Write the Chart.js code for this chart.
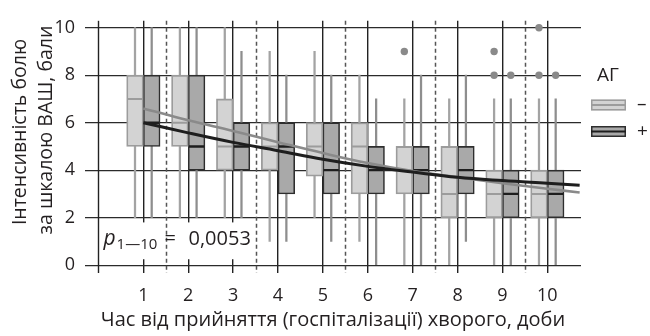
<!DOCTYPE html>
<html><head><meta charset="utf-8">
<script src="https://cdn.jsdelivr.net/npm/chart.js@4/dist/chart.umd.min.js"></script>
<style>html,body{margin:0;padding:0;background:#fff}#wrap{width:650px;height:336px;position:relative}</style>
</head><body><div id="wrap"><canvas id="c" width="650" height="336"></canvas></div>
<script>
// ---- data ----
const days = [1, 2, 3, 4, 5, 6, 7, 8, 9, 10];
// АГ − (light boxes)
const negMin = [2, 2, 2, 1, 2, 1, 0, 0, 0, 0];
const negQ1  = [5, 5, 4, 4, 3.75, 3, 3, 2, 2, 2];
const negMed = [7, 6, 5, 5, 5, 5, 4, 3, 3, 3];
const negQ3  = [8, 8, 7, 6, 6, 6, 5, 5, 4, 4];
const negMax = [10, 10, 10, 9, 9, 8, 7, 7, 7, 7];
const negOutliers = [[], [], [], [], [], [], [9], [], [8, 9], [8, 10]];
// АГ + (dark boxes)
const posMin = [2, 2, 2, 1, 1, 0, 0, 1, 0, 0];
const posQ1  = [5, 4, 4, 3, 3, 3, 3, 3, 2, 2];
const posMed = [6, 5, 5, 5, 4, 4, 4, 4, 3, 3];
const posQ3  = [8, 8, 6, 6, 6, 5, 5, 5, 4, 4];
const posMax = [10, 10, 9, 8, 8, 7, 8, 8, 7, 7];
const posOutliers = [[], [], [], [], [], [], [], [], [8], [8]];
// fitted trend curves
const trendX   = [1, 2, 3, 4, 5, 6, 7, 8, 9, 10, 10.72];
const trendNeg = [6.6, 6.1, 5.65, 5.18, 4.72, 4.3, 3.96, 3.7, 3.45, 3.22, 3.06];
const trendPos = [6.0, 5.57, 5.17, 4.82, 4.46, 4.16, 3.92, 3.7, 3.56, 3.45, 3.37];
const yTicks = [0, 2, 4, 6, 8, 10];
const dividers = [1.5, 3.5, 5.5, 7.5, 9.5];
const xTitle = 'Час від прийняття (госпіталізації) хворого, доби';
const yTitle = ['Інтенсивність болю', 'за шкалою ВАШ, бали'];
const legendTitle = 'АГ';
const legendLabels = ['–', '+'];
const pLabel = ['p', '1—10', '=', '0,0053'];

// ---- styling / layout ----
const FONT = '"Open Sans", "DejaVu Sans", sans-serif';
const TXT = '#231f20';
const OFF = 0.186;
const LIGHT = {fill: '#d3d3d3', edge: '#9c9c9c', whisk: '#a3a3a3', med: '#9c9c9c'};
const DARK  = {fill: '#a9a9a9', edge: '#2e2e2e', whisk: '#8e8e8e', med: '#1e1e1e'};

const whisk = (mn, mx, s) => days.map((d, i) => ({x: d + s * OFF, y: [mn[i], mx[i]]}));
const boxes = (q1, q3, s) => days.map((d, i) => ({x: d + s * OFF, y: [q1[i], q3[i]]}));
const meds = (m, s) => days.map((d, i) => ({x: d + s * OFF, y: m[i]}));
const outl = (o, s) => days.flatMap((d, i) => o[i].map(v => ({x: d + s * OFF, y: v})));

const extras = {
  id: 'extras',
  beforeDatasetsDraw(chart) {
    const {ctx, chartArea: a, scales: {x, y}} = chart;
    ctx.save();
    ctx.strokeStyle = '#222'; ctx.lineWidth = 1.4;
    const x0 = Math.round(x.getPixelForValue(0)) + 0.5;
    ctx.beginPath(); ctx.moveTo(x0, a.top); ctx.lineTo(x0, a.bottom); ctx.stroke();
    ctx.fillStyle = '#fff';
    ctx.fillRect(x.getPixelForValue(0) + 1.5, y.getPixelForValue(1.8), x.getPixelForValue(3.5) - x.getPixelForValue(0) - 3, y.getPixelForValue(0.25) - y.getPixelForValue(1.8));
    ctx.strokeStyle = '#555'; ctx.lineWidth = 1.5; ctx.setLineDash([4, 3]);
    dividers.forEach(v => {
      const px = Math.round(x.getPixelForValue(v)) + 0.5;
      ctx.beginPath(); ctx.moveTo(px, a.top); ctx.lineTo(px, a.bottom); ctx.stroke();
    });
    ctx.restore();
  },
  afterDraw(chart) {
    const {ctx, scales: {x, y}} = chart;
    ctx.save();
    ctx.fillStyle = TXT;
    ctx.textAlign = 'center'; ctx.textBaseline = 'middle';
    ctx.font = '19.5px ' + FONT;
    ctx.translate(20, 132); ctx.rotate(-Math.PI / 2);
    ctx.fillText(yTitle[0], 0, 0);
    ctx.fillText(yTitle[1], 2, 26);
    ctx.setTransform(1, 0, 0, 1, 0, 0);
    // p-value
    ctx.textAlign = 'left'; ctx.textBaseline = 'alphabetic';
    const px = x.getPixelForValue(0) + 5, py = y.getPixelForValue(0.85);
    ctx.font = 'italic 21px ' + FONT; ctx.fillText(pLabel[0], px, py);
    const w = ctx.measureText(pLabel[0]).width;
    ctx.font = '15px ' + FONT; ctx.fillText(pLabel[1], px + w + 1, py + 4);
    ctx.font = '20px ' + FONT;
    ctx.fillText(pLabel[2], px + 61, py);
    ctx.fillText(pLabel[3], px + 85, py);
    // legend
    ctx.font = '19px ' + FONT; ctx.textAlign = 'left'; ctx.textBaseline = 'middle';
    ctx.fillText(legendTitle, 597, 76);
    const items = [[LIGHT, 105], [DARK, 131.5]];
    items.forEach(([c, cy], k) => {
      ctx.fillStyle = c.fill; ctx.fillRect(591, cy - 5.5, 35, 11);
      ctx.strokeStyle = c.edge; ctx.lineWidth = 1.5; ctx.strokeRect(591.75, cy - 4.75, 33.5, 9.5);
      ctx.strokeStyle = c.med; ctx.lineWidth = 2;
      ctx.beginPath(); ctx.moveTo(591, cy); ctx.lineTo(626, cy); ctx.stroke();
      ctx.fillStyle = TXT; ctx.font = '19px ' + FONT;
      ctx.fillText(legendLabels[k], 637, cy);
    });
    ctx.restore();
  }
};

new Chart(document.getElementById('c'), {
  type: 'bar',
  data: {
    datasets: [
      {type: 'line', data: trendX.map((v, i) => ({x: v, y: trendPos[i]})), borderColor: '#1e1e1e', borderWidth: 3, pointRadius: 0, tension: 0.4, order: 0},
      {type: 'line', data: trendX.map((v, i) => ({x: v, y: trendNeg[i]})), borderColor: '#8a8a8a', borderWidth: 2.6, pointRadius: 0, tension: 0.4, order: 0},
      {type: 'scatter', data: meds(negMed, -1), pointStyle: 'line', radius: 7.6, borderColor: LIGHT.med, borderWidth: 2, order: 1},
      {type: 'scatter', data: meds(posMed, 1), pointStyle: 'line', radius: 7.6, borderColor: DARK.med, borderWidth: 2.4, order: 1},
      {type: 'scatter', data: outl(negOutliers, -1).concat(outl(posOutliers, 1)), pointStyle: 'circle', radius: 3.7, backgroundColor: '#8a8a8a', borderWidth: 0, order: 1},
      {data: boxes(negQ1, negQ3, -1), backgroundColor: LIGHT.fill, borderColor: LIGHT.edge, borderWidth: 1.8, borderSkipped: false, barThickness: 16.7, grouped: false, order: 2},
      {data: boxes(posQ1, posQ3, 1), backgroundColor: DARK.fill, borderColor: DARK.edge, borderWidth: 1.6, borderSkipped: false, barThickness: 16.7, grouped: false, order: 2},
      {data: whisk(negMin, negMax, -1), backgroundColor: LIGHT.whisk, borderWidth: 0, barThickness: 1.6, grouped: false, order: 3},
      {data: whisk(posMin, posMax, 1), backgroundColor: DARK.whisk, borderWidth: 0, barThickness: 1.6, grouped: false, order: 3}
    ]
  },
  options: {
    responsive: false, animation: false,
    layout: {padding: {left: 0, right: 69, top: 13, bottom: 0}},
    plugins: {legend: {display: false}, tooltip: {enabled: false}},
    scales: {
      x: {
        type: 'linear', min: -0.3, max: 10.75, offset: false,
        afterBuildTicks: s => { s.ticks = days.map(v => ({value: v})); },
        afterFit: s => { s.height = 63; },
        grid: {offset: false, color: '#222', lineWidth: 1.4, drawTicks: false},
        border: {display: false},
        ticks: {padding: 12, color: TXT, font: {family: FONT, size: 18}, maxRotation: 0, autoSkip: false, callback: v => String(v)},
        title: {display: true, text: xTitle, color: TXT, font: {family: FONT, size: 20}, padding: {top: 0, bottom: 4}}
      },
      y: {
        type: 'linear', min: -0.33, max: 10.29,
        afterBuildTicks: s => { s.ticks = yTicks.map(v => ({value: v})); },
        afterFit: s => { s.width = 85; },
        grid: {color: '#2b2b2b', lineWidth: 1.2, drawTicks: false},
        border: {display: false},
        ticks: {padding: 10, color: TXT, font: {family: FONT, size: 18}, callback: v => String(v)}
      }
    }
  },
  plugins: [extras]
});
</script></body></html>
